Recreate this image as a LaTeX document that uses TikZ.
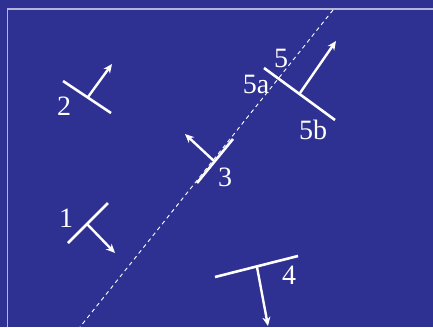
\documentclass[tikz,border=0pt]{standalone}
\usepackage{fontspec}
\setmainfont{Liberation Serif}
\usetikzlibrary{arrows.meta}

\definecolor{slidebg}{HTML}{2E3192}
\definecolor{framecol}{HTML}{B4B4DC}

\begin{document}
\begin{tikzpicture}[
    x=1pt,
    y=-1pt,
    line cap=butt,
    wall/.style={white,line width=2.6pt},
    normal/.style={white,line width=2.4pt,-{Stealth[length=9pt,width=8pt]}},
    axis/.style={white,line width=0.9pt,dash pattern=on 4pt off 3.5pt},
    lbl/.style={white,inner sep=0pt,font=\fontsize{28}{28}\selectfont}
]

% -------------------------------------------------
% Фон и рамка
% -------------------------------------------------

\fill[slidebg] (0,0) rectangle (433,327);
\useasboundingbox (0,0) rectangle (433,327);
\draw[framecol,line width=1.4pt] (433,9)--(7.5,9)--(7.5,327);

% -------------------------------------------------
% Штриховая прямая
% -------------------------------------------------

\coordinate (L1) at (333,10);
\coordinate (L2) at (80,327);
\draw[axis] (L1)--(L2);

% -------------------------------------------------
% Отрезки и нормали
% -------------------------------------------------

% 1
\coordinate (S1a) at (68,243);
\coordinate (S1b) at (108,203);
\coordinate (F1)  at (87,224);
\coordinate (T1)  at (115,253);
\draw[wall] (S1a)--(S1b);
\draw[normal] (F1)--(T1);

% 2
\coordinate (S2a) at (63,81);
\coordinate (S2b) at (111,113);
\coordinate (F2)  at (88,97);
\coordinate (T2)  at (112,64);
\draw[wall] (S2a)--(S2b);
\draw[normal] (F2)--(T2);

% 3
\coordinate (S3a) at (197,183);
\coordinate (S3b) at (233,139);
\coordinate (F3)  at (214,161);
\coordinate (T3)  at (185,134);
\draw[wall] (S3a)--(S3b);
\draw[normal] (F3)--(T3);

% 4
\coordinate (S4a) at (215,277);
\coordinate (S4b) at (298,256);
\coordinate (F4)  at (257,267);
\coordinate (T4)  at (268,326);
\draw[wall] (S4a)--(S4b);
\draw[normal] (F4)--(T4);

% 5
\coordinate (S5a) at (264,68);
\coordinate (S5b) at (335,120);
\coordinate (F5)  at (300,93);
\coordinate (T5)  at (336,41);
\draw[wall] (S5a)--(S5b);
\draw[normal] (F5)--(T5);

% -------------------------------------------------
% Подписи
% -------------------------------------------------

\node[lbl] (n1)  at (66,218)  {1};
\node[lbl] (n2)  at (64,106)  {2};
\node[lbl] (n3)  at (225,177) {3};
\node[lbl] (n4)  at (289,275) {4};
\node[lbl] (n5)  at (281,58)  {5};
\node[lbl] (n5a) at (256,84)  {5a};
\node[lbl] (n5b) at (313,130) {5b};

\end{tikzpicture}
\end{document}
